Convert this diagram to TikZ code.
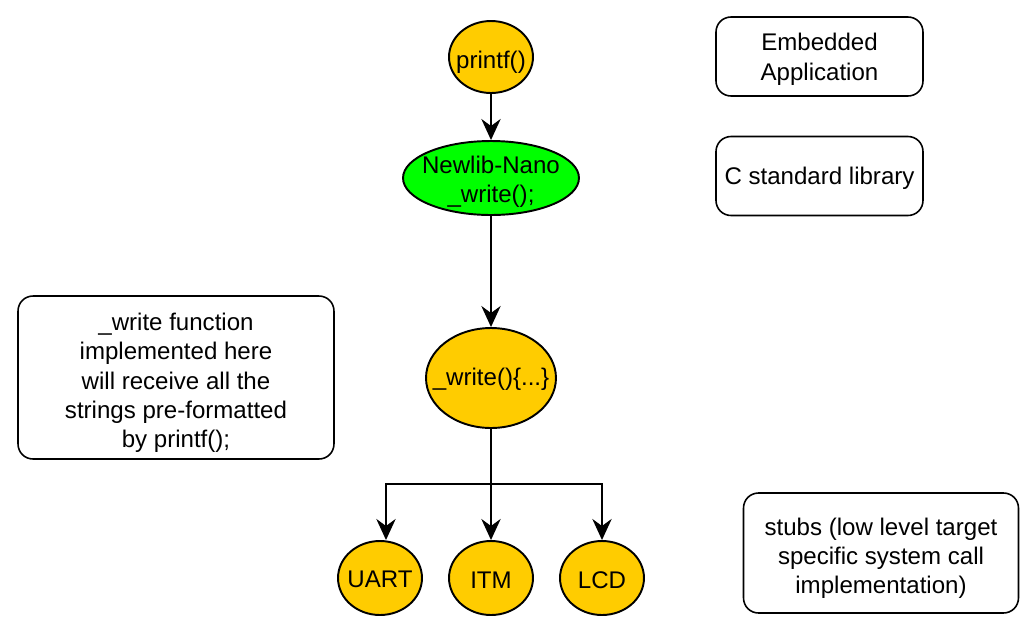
\documentclass[tikz,border=0pt]{standalone}
\usepackage{fontspec}
\setmainfont{Liberation Sans}
\usetikzlibrary{shapes.geometric}
\usetikzlibrary{arrows.meta}

\definecolor{nanoorange}{HTML}{FFCC00}
\definecolor{nanogreen}{HTML}{00FF00}

\begin{document}
\begin{tikzpicture}[x=0.02cm, y=-0.02cm, line width=1.1pt, font=\fontsize{13.7pt}{16.7pt}\selectfont,
    ell/.style={ellipse, draw, fill=nanoorange, inner sep=0pt, minimum width=1.68cm, minimum height=1.48cm},
    note/.style={rectangle, rounded corners=8.5pt, draw, line width=0.9pt, inner sep=0pt},
    txt/.style={align=center, yshift=-3pt},
    flow/.style={-{Stealth[length=12pt, width=11pt, inset=4pt]}}]
  \useasboundingbox (0,0) rectangle (1036,630);

  % call chain
  \node[ell, minimum height=1.44cm, label={[txt]center:printf()}] (printf) at (491,57) {};
  \node[ell, fill=nanogreen, minimum width=3.52cm, label={[txt, yshift=1pt]center:Newlib-Nano\\\_write();}] (newlib) at (491,178) {};
  \node[ell, minimum width=2.6cm, minimum height=2cm, label={[txt, yshift=2pt]center:\_write()\{...\}}] (writefn) at (491,378) {};
  \node[ell, label={[txt, yshift=2pt]center:UART}] (uart) at (380,578) {};
  \node[ell, label={[txt, yshift=2pt]center:ITM}] (itm) at (491,578) {};
  \node[ell, label={[txt, yshift=2pt]center:LCD}] (lcd) at (602,578) {};

  % side notes
  \node[note, minimum width=4.14cm, minimum height=1.58cm, label={[txt, yshift=1.5pt]center:Embedded\\Application}] (app) at (819.5,56.5) {};
  \node[note, minimum width=4.14cm, minimum height=1.58cm, label={[txt, yshift=1.5pt]center:C standard library}] (clib) at (819.5,176) {};
  \node[note, minimum width=6.32cm, minimum height=3.26cm,
    label={[txt]center:\_write function\\implemented here\\will receive all the\\strings pre-formatted\\by printf();}] (here) at (176,377.5) {};
  \node[note, minimum width=5.5cm, minimum height=2.4cm,
    label={[txt]center:stubs (low level target\\specific system call\\implementation)}] (stubs) at (881,553) {};

  \draw[flow] (printf) -- (newlib);
  \draw[flow] (newlib) -- (writefn);
  \coordinate (split) at (491,484);
  \draw (writefn.south) -- (split);
  \draw[flow] (split) -| ([xshift=0.12cm]uart.north);
  \draw[flow] (split) -- (itm);
  \draw[flow] (split) -| (lcd);
\end{tikzpicture}
\end{document}
